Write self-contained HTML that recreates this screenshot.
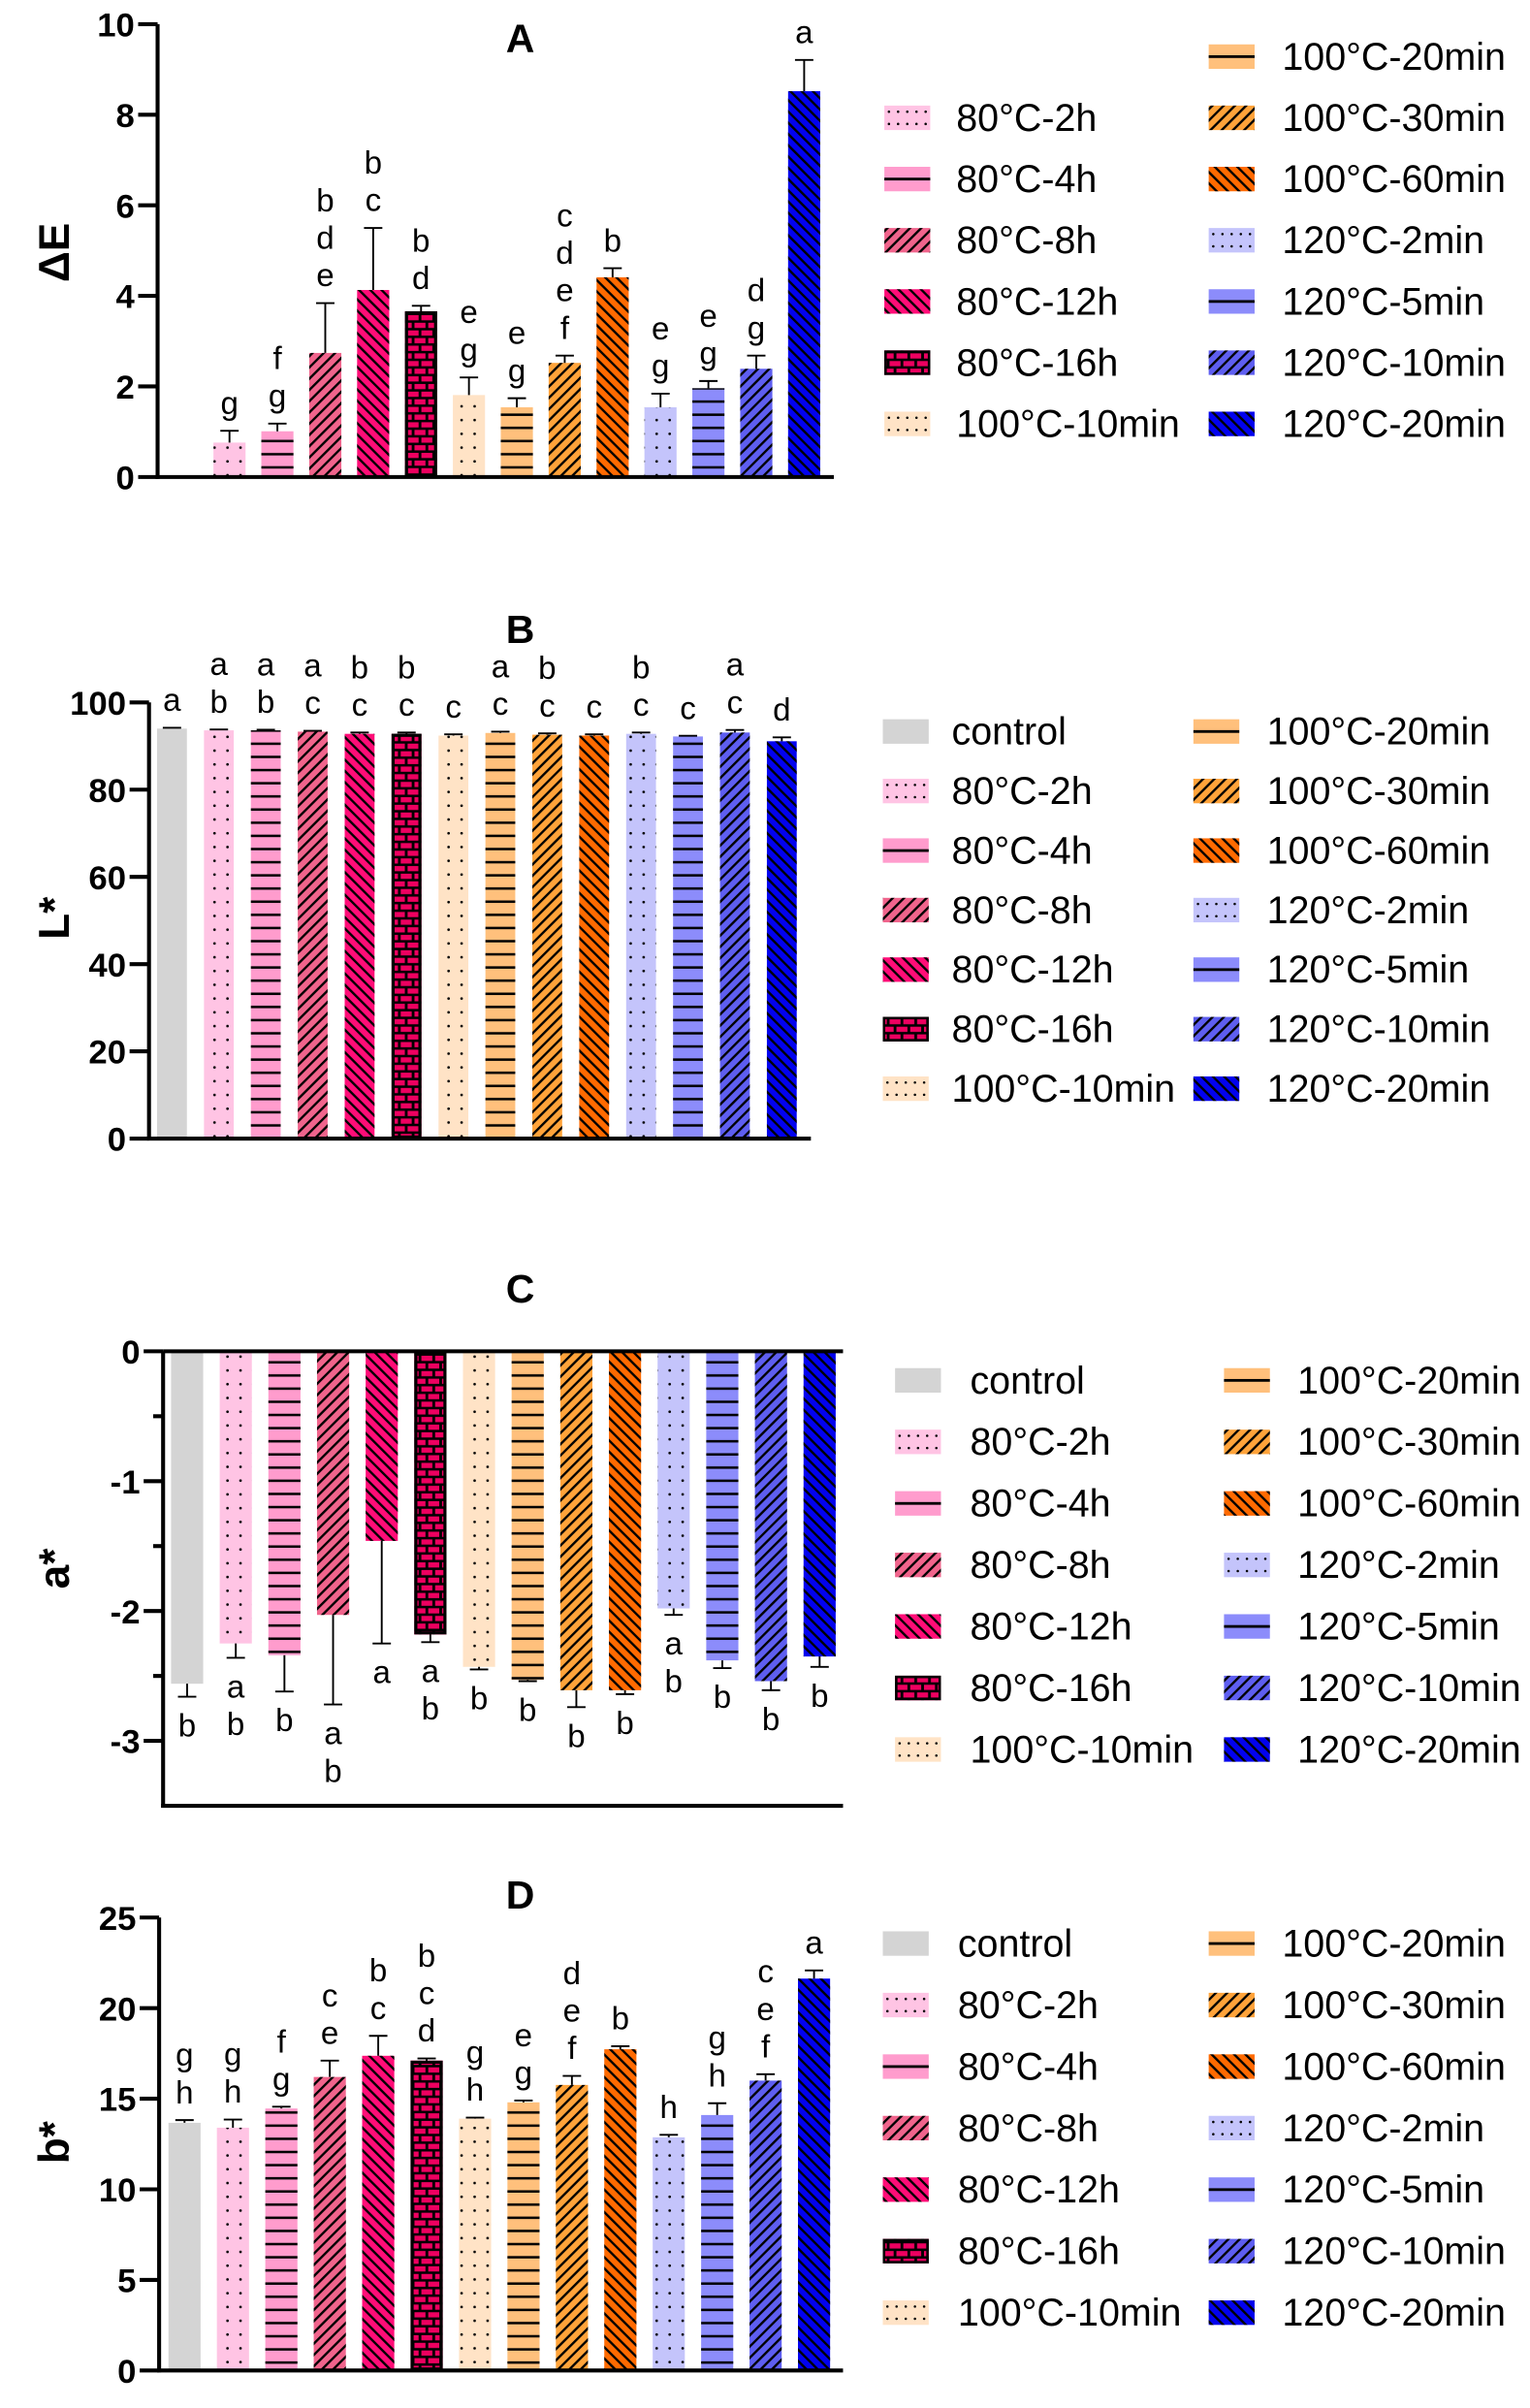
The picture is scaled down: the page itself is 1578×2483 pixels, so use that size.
<!DOCTYPE html>
<html><head><meta charset="utf-8"><style>
html,body{margin:0;padding:0;background:#fff;}
svg{display:block;font-family:"Liberation Sans",Arial,sans-serif;}
</style></head><body>
<svg id="fig" width="1578" height="2483" viewBox="0 0 1000 1573.5" preserveAspectRatio="none" xmlns="http://www.w3.org/2000/svg">
<defs>
<pattern id="p-dots" patternUnits="userSpaceOnUse" width="8.5" height="9"><circle cx="4.2" cy="4.5" r="0.85" fill="#000"/></pattern>
<pattern id="p-hline" patternUnits="userSpaceOnUse" width="10" height="8.6"><rect x="0" y="3.6" width="10" height="1.6" fill="#000"/></pattern>
<pattern id="p-fwd" patternUnits="userSpaceOnUse" width="5.2" height="10" patternTransform="rotate(45)"><rect x="0" y="0" width="1.5" height="10" fill="#000"/></pattern>
<pattern id="p-back" patternUnits="userSpaceOnUse" width="5.2" height="10" patternTransform="rotate(-45)"><rect x="0" y="0" width="1.5" height="10" fill="#000"/></pattern>
<pattern id="p-brick" patternUnits="userSpaceOnUse" width="9" height="10"><rect width="9" height="10" fill="#000"/><rect x="0.9" y="0.9" width="7.2" height="3.4" fill="#ee0060"/><rect x="-3.6" y="5.9" width="7.2" height="3.4" fill="#ee0060"/><rect x="5.4" y="5.9" width="7.2" height="3.4" fill="#ee0060"/></pattern>
</defs>
<g id="root"></g>
</svg>
<script>
// ---- shared categories ----
const categories = ["control","80°C-2h","80°C-4h","80°C-8h","80°C-12h","80°C-16h","100°C-10min","100°C-20min","100°C-30min","100°C-60min","120°C-2min","120°C-5min","120°C-10min","120°C-20min"];
const colors = ["#d4d4d4","#ffc4e4","#ff9ccd","#f0648c","#ff0d77","#ee0060","#ffe3c6","#ffc07c","#ffa33a","#ff6a00","#c4c4fb","#8c8cfb","#5e5ef0","#0202ee"];
const patterns = ["none","dots","hline","fwd","back","brick","dots","hline","fwd","back","dots","hline","fwd","back"];

// ---- Panel A: ΔE ----
const dEValues = [null,0.76,1.01,2.74,4.13,3.66,1.81,1.54,2.52,4.41,1.54,1.96,2.39,8.52];
const dEErrors = [null,0.26,0.17,1.10,1.37,0.12,0.39,0.20,0.16,0.20,0.30,0.16,0.29,0.69];
const dELetters = ["","g","f g","b d e","b c","b d","e g","e g","c d e f","b","e g","e g","d g","a"];
const dETicks = ["0","2","4","6","8","10"];

// ---- Panel B: L* ----
const LValues = [94.0,93.6,93.6,93.3,92.8,92.8,92.4,93.0,92.6,92.4,92.8,92.2,93.1,91.1];
const LErrors = [0.2,0.2,0.15,0.2,0.3,0.3,0.3,0.3,0.3,0.3,0.3,0.15,0.6,0.9];
const LLetters = ["a","a b","a b","a c","b c","b c","c","a c","b c","c","b c","c","a c","d"];
const LTicks = ["0","20","40","60","80","100"];

// ---- Panel C: a* ----
const aValues = [-2.56,-2.25,-2.34,-2.03,-1.46,-2.18,-2.43,-2.53,-2.61,-2.61,-1.98,-2.38,-2.54,-2.35];
const aErrors = [0.10,0.11,0.28,0.69,0.79,0.06,0.02,0.01,0.13,0.03,0.05,0.06,0.07,0.08];
const aLetters = ["b","a b","b","a b","a","a b","b","b","b","b","a b","b","b","b"];
const aTicks = ["0","-1","-2","-3"];

// ---- Panel D: b* ----
const bValues = [13.67,13.4,14.46,16.2,17.37,17.1,13.9,14.8,15.76,17.73,12.87,14.1,16.0,21.63];
const bErrors = [0.15,0.45,0.1,0.9,1.1,0.12,0.06,0.1,0.5,0.17,0.14,0.65,0.35,0.45];
const bLetters = ["g h","g h","f g","c e","b c","b c d","g h","e g","d e f","b","h","g h","c e f","a"];
const bTicks = ["0","5","10","15","20","25"];

const NS = "http://www.w3.org/2000/svg";
const root = document.getElementById("root");
function mk(tag, attrs, parent){ const e=document.createElementNS(NS,tag); for(const k in attrs) e.setAttribute(k,attrs[k]); (parent||root).appendChild(e); return e; }
function fillFor(i){ return patterns[i]==="none"?null:"url(#p-"+patterns[i]+")"; }

const panels = [
 {id:"A", title:"A", titleY:34, ylab:"ΔE", ylabY:165, vals:dEValues, errs:dEErrors, lets:dELetters, ticks:dETicks,
  axisX:103, xEnd:545, vMin:0, vMax:10, yMin:311.7, yMax:15.8, first:118.7, step:31.3, barW:21, minor:[],
  leg:{y0:37, dy:40, x1:578, t1:625, x2:790, t2:838}, skipControl:true},
 {id:"B", title:"B", titleY:420, ylab:"L*", ylabY:600, vals:LValues, errs:LErrors, lets:LLetters, ticks:LTicks,
  axisX:97.4, xEnd:530, vMin:0, vMax:100, yMin:744, yMax:459, first:112.4, step:30.66, barW:19.5, minor:[],
  leg:{y0:478, dy:38.9, x1:577, t1:622, x2:780, t2:828}},
 {id:"C", title:"C", titleY:851, ylab:"a*", ylabY:1025, vals:aValues, errs:aErrors, lets:aLetters, ticks:aTicks,
  axisX:106.6, xEnd:551, vMin:-3.5, vMax:0, yMin:1180, yMax:883, first:122.3, step:31.8, barW:21, minor:[-0.5,-1.5,-2.5], negative:true,
  leg:{y0:902, dy:40.2, x1:585, t1:634, x2:800, t2:848}},
 {id:"D", title:"D", titleY:1247, ylab:"b*", ylabY:1400, vals:bValues, errs:bErrors, lets:bLetters, ticks:bTicks,
  axisX:104, xEnd:551, vMin:0, vMax:25, yMin:1549, yMax:1253, first:120.6, step:31.65, barW:21, minor:[],
  leg:{y0:1270, dy:40.2, x1:577, t1:626, x2:790, t2:838}}
];

panels.forEach(p=>{
  const g = mk("g",{});
  
  
  const y = v => p.yMin - (v - p.vMin)*(p.yMin - p.yMax)/(p.vMax - p.vMin);
  const x = i => p.first + i*p.step;
  const t = mk("text",{x:340,y:p.titleY,"text-anchor":"middle","font-size":26,"font-weight":"bold"},g);
  t.textContent = p.title;
  
  
  const yl = mk("text",{x:0,y:0,"text-anchor":"middle","font-size":28,"font-weight":"bold",transform:"translate(45,"+p.ylabY+") rotate(-90)"},g);
  yl.textContent = p.ylab;
  
  
  const base = p.negative ? y(0) : y(p.vMin);
  p.vals.forEach((v,i)=>{
    if(v===null) return;
    const cx = x(i), yv = y(v);
    const top = Math.min(base,yv), h = Math.abs(base-yv);
    const bg = mk("g",{},g);
    
    
    mk("rect",{x:cx-p.barW/2,y:top,width:p.barW,height:h,fill:colors[i]},bg);
    if(fillFor(i)) mk("rect",{x:cx-p.barW/2,y:top,width:p.barW,height:h,fill:fillFor(i)},bg);
    if(patterns[i]==="brick") mk("rect",{x:cx-p.barW/2+1,y:top+1,width:p.barW-2,height:Math.max(0,h-2),fill:"none",stroke:"#000","stroke-width":2},bg);
    const ev = p.negative ? v - p.errs[i] : v + p.errs[i];
    const ye = y(ev);
    const eb = mk("path",{d:"M"+cx+","+yv+"V"+ye+"M"+(cx-6)+","+ye+"H"+(cx+6),stroke:"#000","stroke-width":1.2,fill:"none"},g);
    
    
    const L = p.lets[i].split(" ").filter(s=>s);
    L.forEach((s,k)=>{
      let ty;
      if(p.negative) ty = ye + 26 + k*24.5;
      else ty = ye - 11 - (L.length-1-k)*24.5;
      const lt = mk("text",{x:cx,y:ty,"text-anchor":"middle","font-size":21},g);
      lt.textContent = s;
      
      
    });
  });
  const ax = mk("path",{d:"M"+p.axisX+","+p.yMax+"V"+(p.yMin+1.2),stroke:"#000","stroke-width":2.6,fill:"none"},g);
  
  
  const xa = mk("path",{d:"M"+(p.axisX-1.3)+","+p.yMin+"H"+p.xEnd,stroke:"#000","stroke-width":2.6,fill:"none"},g);
  
  
  if(p.negative){
    const zl = mk("path",{d:"M"+p.axisX+","+y(0)+"H"+p.xEnd,stroke:"#000","stroke-width":2.6,fill:"none"},g);
    
    
  }
  p.ticks.forEach(s=>{
    const v = parseFloat(s), ty = y(v);
    mk("path",{d:"M"+(p.axisX-12.7)+","+ty+"H"+p.axisX,stroke:"#000","stroke-width":2.6},g);
    const tl = mk("text",{x:p.axisX-15,y:ty+8,"text-anchor":"end","font-size":22,"font-weight":"bold"},g);
    tl.textContent = s;
    
    
  });
  p.minor.forEach(v=>{
    mk("path",{d:"M"+(p.axisX-6.5)+","+y(v)+"H"+p.axisX,stroke:"#000","stroke-width":2.6},g);
  });
  const lg = mk("g",{},g);
  
  
  categories.forEach((c,i)=>{
    if(p.skipControl && i===0) return;
    const col = i<7?0:1, row = i%7;
    const sx = col===0?p.leg.x1:p.leg.x2, tx = col===0?p.leg.t1:p.leg.t2;
    const cy = p.leg.y0 + row*p.leg.dy;
    const eg = mk("g",{},lg);
    
    
    mk("rect",{x:sx,y:cy-8,width:30,height:16,fill:colors[i]},eg);
    if(patterns[i]==="hline") mk("rect",{x:sx,y:cy-0.9,width:30,height:1.8,fill:"#000"},eg);
    else if(patterns[i]==="dots"){
      for(let r=0;r<2;r++) for(let q=0;q<5;q++) mk("circle",{cx:sx+3+q*6,cy:cy-4+r*8,r:0.8,fill:"#000"},eg);
    } else if(fillFor(i)) mk("rect",{x:sx,y:cy-8,width:30,height:16,fill:fillFor(i)},eg);
    if(patterns[i]==="brick") mk("rect",{x:sx+0.8,y:cy-7.2,width:28.4,height:14.4,fill:"none",stroke:"#000","stroke-width":1.6},eg);
    const lt = mk("text",{x:tx,y:cy+8.5,"font-size":25},eg);
    lt.textContent = c;
  });
});
</script>
</body></html>
